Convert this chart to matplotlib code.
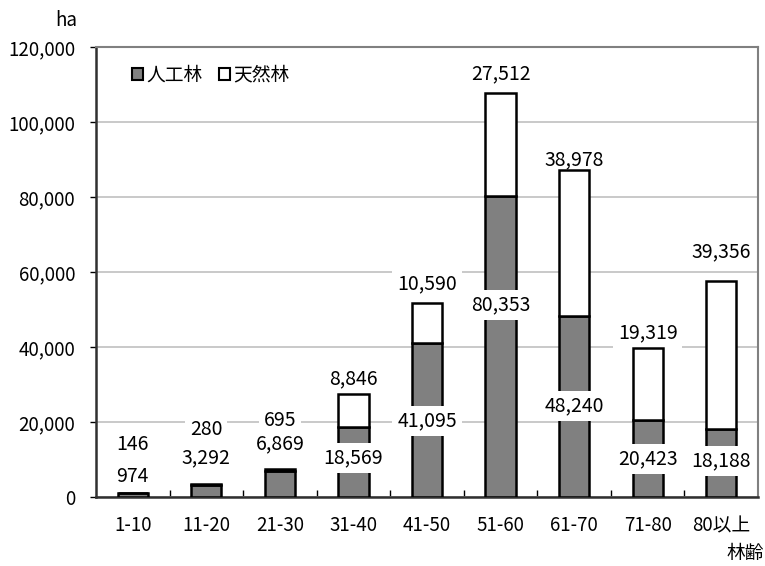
import matplotlib
matplotlib.use("Agg")
import matplotlib.pyplot as plt
from matplotlib.patches import Patch
import numpy as np

plt.rcParams['font.family'] = ['Noto Sans CJK JP', 'DejaVu Sans']

categories = ["1-10", "11-20", "21-30", "31-40", "41-50", "51-60", "61-70", "71-80", "80以上"]
planted = [974, 3292, 6869, 18569, 41095, 80353, 48240, 20423, 18188]
natural = [146, 280, 695, 8846, 10590, 27512, 38978, 19319, 39356]
yticks = [0, 20000, 40000, 60000, 80000, 100000, 120000]

# label placement (layout, data coordinates)
planted_label_y = [5600, 10400, 14130, 10400, 20270, 51200, 24270, 10130, 9600]
natural_label_y = [14130, 18130, 20530, 31470, 56800, 112800, 90000, 43730, 65330]

fig = plt.figure(figsize=(7.65, 5.66), dpi=100)
ax = fig.add_axes([96/765, 69/566, 662/765, 450/566])

x = np.arange(len(categories))
w = 0.41
ax.bar(x, planted, w, color='#808080', edgecolor='black', linewidth=1.8, zorder=3, label='人工林')
ax.bar(x, natural, w, bottom=planted, color='white', edgecolor='black', linewidth=1.8, zorder=3, label='天然林')

fs = 14
tfs = 13.5
box = dict(facecolor='white', edgecolor='none', pad=3.5)
for i in range(len(categories)):
    ax.text(x[i], planted_label_y[i], f"{planted[i]:,}", ha='center', va='center',
            fontsize=fs, bbox=box, zorder=5)
    ax.text(x[i], natural_label_y[i], f"{natural[i]:,}", ha='center', va='center',
            fontsize=fs, bbox=box, zorder=2.5)

ax.set_xlim(-0.5, len(categories) - 0.5)
ax.set_ylim(0, 120000)
ax.set_yticks(yticks)
ax.set_yticklabels([f"{v:,}" for v in yticks], fontsize=tfs)
ax.set_xticks(x)
ax.set_xticklabels(categories, fontsize=tfs)
ax.set_xticks(np.arange(len(categories) - 1) + 0.5, minor=True)
ax.tick_params(axis='x', which='major', length=0, pad=13)
ax.tick_params(axis='x', which='minor', length=5, direction='in', width=1)
ax.tick_params(axis='y', which='major', length=4, direction='out', width=1, pad=11)

ax.yaxis.grid(True, color='#c0c0c0', linewidth=1.2, zorder=0)
ax.set_axisbelow(True)

for s in ['left', 'bottom']:
    ax.spines[s].set_color('#303030')
    ax.spines[s].set_linewidth(1.8)
for s in ['top', 'right']:
    ax.spines[s].set_color('#808080')
    ax.spines[s].set_linewidth(1.5)

handles = [Patch(facecolor='#808080', edgecolor='black', linewidth=1.5),
           Patch(facecolor='white', edgecolor='black', linewidth=1.5)]
ax.legend(handles, ['人工林', '天然林'], loc='center left', bbox_to_anchor=(0.043, 0.938),
          ncol=2, frameon=False, fontsize=13.5, handlelength=0.6, handleheight=0.6,
          handletextpad=0.15, columnspacing=0.9, borderaxespad=0)

fig.text(66/765, 1 - 20/566, 'ha', ha='center', va='center', fontsize=tfs)
fig.text(745/765, 1 - 554/566, '林齢', ha='center', va='center', fontsize=tfs)

fig.savefig('out.png', dpi=100)
